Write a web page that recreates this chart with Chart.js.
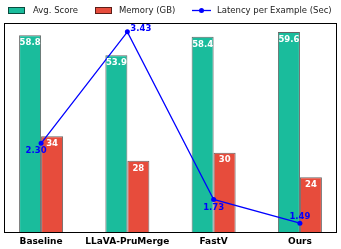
<!DOCTYPE html>
<html>
<head>
<meta charset="utf-8">
<script src="https://cdn.jsdelivr.net/npm/chart.js@4.4.1/dist/chart.umd.min.js"></script>
<style>
html,body{margin:0;padding:0;background:#fff;}
#wrap{width:341px;height:249px;position:relative;}
</style>
</head>
<body>
<div id="wrap"><canvas id="c" width="341" height="249"></canvas></div>
<script>
const categories = ["Baseline", "LLaVA-PruMerge", "FastV", "Ours"];
const avgScore = [58.8, 53.9, 58.4, 59.6];
const memoryGB = [34, 28, 30, 24];
const latency = [2.30, 3.43, 1.73, 1.49];
const seriesNames = ["Avg. Score", "Memory (GB)", "Latency per Example (Sec)"];

const GREEN = "#1abc9c", RED = "#e74c3c", BLUE = "#0000ff";
const EDGE = "rgba(0,0,0,0.6)";
const FONT = "'DejaVu Sans', sans-serif";

// label offsets for latency values (style only)
const latOffsets = [[-5, 8, 'center'], [3, -3, 'left'], [0, 8, 'center'], [0, -6, 'center']];

const plugin = {
  id: 'extras',
  afterDatasetsDraw(chart) {
    const ctx = chart.ctx;
    const a = chart.chartArea;
    ctx.save();
    // frame
    ctx.strokeStyle = '#000';
    ctx.lineWidth = 1;
    ctx.strokeRect(Math.round(a.left) + 0.5, Math.round(a.top) + 0.5, Math.round(a.right - a.left) - 1, Math.round(a.bottom - a.top) - 1);
    // bar labels
    ctx.font = "bold 8.5px " + FONT;
    ctx.fillStyle = '#fff';
    ctx.textAlign = 'center';
    ctx.textBaseline = 'middle';
    [0, 1].forEach(di => {
      const meta = chart.getDatasetMeta(di);
      const vals = di === 0 ? avgScore : memoryGB;
      meta.data.forEach((el, i) => {
        const txt = di === 0 ? vals[i].toFixed(1) : String(vals[i]);
        ctx.fillText(txt, el.x, el.y + (di === 0 ? 8 : 7.5));
      });
    });
    // latency labels
    ctx.fillStyle = BLUE;
    const lm = chart.getDatasetMeta(2);
    lm.data.forEach((el, i) => {
      const o = latOffsets[i];
      ctx.textAlign = o[2];
      ctx.fillText(latency[i].toFixed(2), el.x + o[0], el.y + o[1]);
    });
    ctx.restore();
  },
  afterDraw(chart) {
    const ctx = chart.ctx;
    ctx.save();
    ctx.font = "8.5px " + FONT;
    ctx.textBaseline = 'middle';
    ctx.textAlign = 'left';
    const cy = 10.5;
    // green box
    ctx.fillStyle = GREEN; ctx.fillRect(8, 7, 17, 7);
    ctx.strokeStyle = EDGE; ctx.lineWidth = 1; ctx.strokeRect(8.5, 7.5, 16, 6);
    ctx.fillStyle = '#222'; ctx.fillText(seriesNames[0], 33, cy);
    // red box
    ctx.fillStyle = RED; ctx.fillRect(95, 7, 17, 7);
    ctx.strokeStyle = EDGE; ctx.strokeRect(95.5, 7.5, 16, 6);
    ctx.fillStyle = '#222'; ctx.fillText(seriesNames[1], 119, cy);
    // line handle
    ctx.strokeStyle = BLUE; ctx.lineWidth = 1.3;
    ctx.beginPath(); ctx.moveTo(192, cy); ctx.lineTo(211, cy); ctx.stroke();
    ctx.fillStyle = BLUE; ctx.beginPath(); ctx.arc(201.5, cy, 2.5, 0, Math.PI * 2); ctx.fill();
    ctx.fillStyle = '#222'; ctx.fillText(seriesNames[2], 217, cy);
    ctx.restore();
  }
};

new Chart(document.getElementById('c'), {
  type: 'bar',
  data: {
    datasets: [
      {
        label: seriesNames[0],
        data: categories.map((c, i) => ({x: i, y: avgScore[i]})),
        backgroundColor: GREEN, borderColor: EDGE, borderWidth: 1,
        yAxisID: 'y', categoryPercentage: 0.51, barPercentage: 1.0, order: 2
      },
      {
        label: seriesNames[1],
        data: categories.map((c, i) => ({x: i, y: memoryGB[i]})),
        backgroundColor: RED, borderColor: EDGE, borderWidth: 1,
        yAxisID: 'y', categoryPercentage: 0.51, barPercentage: 1.0, order: 2
      },
      {
        type: 'line',
        label: seriesNames[2],
        data: categories.map((c, i) => ({x: i, y: latency[i]})),
        borderColor: BLUE, backgroundColor: BLUE, borderWidth: 1.3,
        pointRadius: 2.5, pointBackgroundColor: BLUE, pointBorderWidth: 0,
        yAxisID: 'y2', tension: 0, order: 1
      }
    ]
  },
  options: {
    responsive: false,
    animation: false,
    devicePixelRatio: 1,
    layout: {padding: {top: 23, left: 4, right: 4, bottom: 0}},
    plugins: {legend: {display: false}, tooltip: {enabled: false}},
    scales: {
      x: {
        type: 'linear', min: -0.43, max: 3.43, offset: false,
        grid: {display: false, drawTicks: false},
        border: {display: false},
        afterFit(s) { s.height = 16; },
        ticks: {
          stepSize: 1, includeBounds: false, autoSkip: false, maxRotation: 0, padding: 3,
          color: '#000', font: {family: FONT, size: 9, weight: 'bold'},
          callback: (v) => Number.isInteger(v) && categories[v] !== undefined ? categories[v] : ''
        }
      },
      y: {display: false, min: 10.3, max: 61.8},
      y2: {display: false, min: 1.39, max: 3.52, position: 'right'}
    }
  },
  plugins: [plugin]
});
</script>
</body>
</html>
